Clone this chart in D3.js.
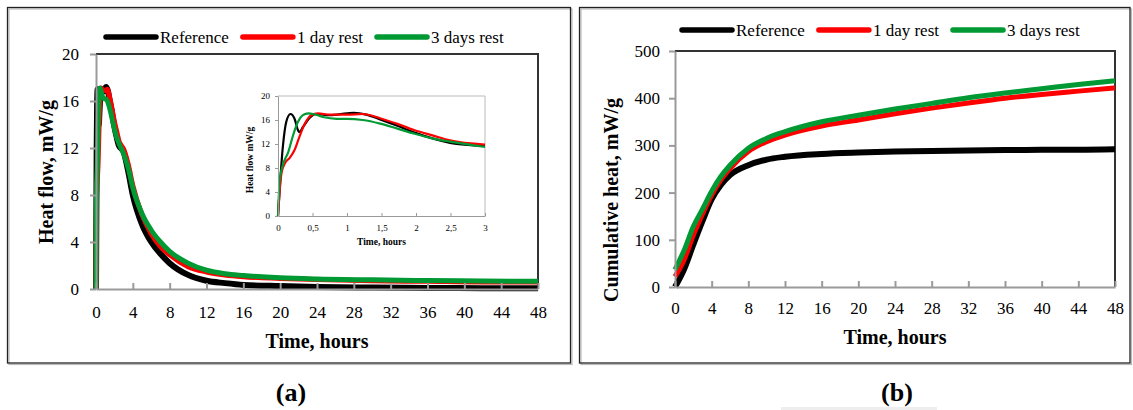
<!DOCTYPE html>
<html>
<head>
<meta charset="utf-8">
<script src="https://cdn.jsdelivr.net/npm/d3@7"></script>
<style>
  body { margin: 0; background: #fff; }
  svg { display: block; }
  text { font-family: "Liberation Serif", "Times New Roman", serif; fill: #000; }
</style>
</head>
<body>
<svg id="chart" width="1133" height="410"></svg>
<script>
// series
const seriesNames = ["Reference", "1 day rest", "3 days rest"];
const seriesColors = ["#000000", "#ff0000", "#009933"];

// heat flow [hours, mW/g]
const flowRef = [[0,0],[0.07,11.5],[0.12,15.7],[0.18,17.0],[0.24,16.2],[0.29,14.3],[0.31,14.0],[0.36,14.8],[0.46,16.4],[0.56,17.0],[0.75,16.8],[1.0,17.1],[1.1,17.2],[1.28,16.9],[1.48,16.1],[1.72,15.1],[1.98,13.9],[2.25,12.9],[2.49,12.2],[3,11.7],[3.5,10.0],[4,8.0],[5,5.5],[6,4.0],[7,3.0],[8,2.2],[10,1.2],[12,0.7],[14,0.5],[16,0.35],[20,0.25],[24,0.18],[30,0.12],[36,0.09],[42,0.07],[48,0.06]];
const flowDay1 = [[0,0],[0.05,7.1],[0.1,8.8],[0.17,9.7],[0.24,11.0],[0.31,13.2],[0.39,15.4],[0.48,16.8],[0.58,17.1],[0.75,16.9],[1.0,16.9],[1.23,17.0],[1.48,16.3],[1.72,15.4],[1.98,14.3],[2.25,13.4],[2.49,12.6],[3,11.9],[3.5,10.6],[4,8.8],[5,6.3],[6,4.7],[7,3.6],[8,2.9],[10,1.9],[12,1.45],[14,1.2],[16,1.05],[20,0.9],[24,0.8],[30,0.7],[36,0.65],[42,0.6],[48,0.6]];
const flowDay3 = [[0,0],[0.025,6.0],[0.07,8.5],[0.15,10.7],[0.22,13.5],[0.29,15.7],[0.36,16.8],[0.44,17.1],[0.51,17.0],[0.65,16.5],[0.85,16.2],[1.0,16.2],[1.23,16.0],[1.48,15.4],[1.72,14.6],[1.98,13.7],[2.25,12.9],[2.49,12.4],[3,11.5],[3.5,10.3],[4,8.6],[5,6.4],[6,5.0],[7,4.0],[8,3.2],[10,2.2],[12,1.6],[14,1.3],[16,1.15],[20,0.95],[24,0.85],[30,0.78],[36,0.72],[42,0.68],[48,0.65]];

// cumulative heat [hours, mW/g]
const cumHours = [0,1,2,3,4,5,6,8,10,12,16,20,24,28,32,36,40,44,48];
const cumRef   = [0,38,90,140,186,216,237,258,270,276,282,285,287,288,289,290,291,291,292];
const cumDay1  = [22,58,110,155,195,227,251,287,308,322,341,354,367,379,390,400,408,415,422];
const cumDay3  = [37,78,128,165,203,234,258,294,315,329,350,364,377,389,401,411,420,429,437];

// ticks
const hourTicks = [0,4,8,12,16,20,24,28,32,36,40,44,48];
const flowTicks = [0,4,8,12,16,20];
const cumTicks = [0,100,200,300,400,500];
const insetHourTicks = [0,0.5,1,1.5,2,2.5,3];
const insetHourLabels = ["0","0,5","1","1,5","2","2,5","3"];

const svg = d3.select("#chart");
const axisGray = "#9a9a9a";
const serif = '"Liberation Serif", "Times New Roman", serif';

// panel frames
function frame(x0, y0, x1, y1) {
  svg.append("rect").attr("x", x0 + 1.5).attr("y", y0 + 1.5)
    .attr("width", x1 - x0).attr("height", y1 - y0)
    .attr("fill", "none").attr("stroke", "#bbb").attr("stroke-width", 1.2);
  svg.append("rect").attr("x", x0).attr("y", y0)
    .attr("width", x1 - x0).attr("height", y1 - y0)
    .attr("fill", "none").attr("stroke", "#222").attr("stroke-width", 1.3);
}
frame(7.5, 7.5, 570.5, 363);
frame(579.5, 7.5, 1130, 363);

function drawPlot(opts) {
  const g = svg.append("g");
  const x = d3.scaleLinear().domain(opts.xDomain).range(opts.xRange);
  const y = d3.scaleLinear().domain(opts.yDomain).range(opts.yRange);

  // top and right border
  g.append("path")
    .attr("d", `M${opts.xRange[0]},${opts.yRange[1]}H${opts.xRange[1]}V${opts.yRange[0]}`)
    .attr("fill", "none").attr("stroke", opts.borderColor).attr("stroke-width", opts.borderWidth);

  const line = d3.line().x(d => x(d[0])).y(d => y(d[1])).curve(d3.curveMonotoneX);
  opts.series.forEach((s, i) => {
    g.append("path").datum(s)
      .attr("d", line)
      .attr("fill", "none")
      .attr("stroke", seriesColors[i])
      .attr("stroke-width", opts.lineWidth[i])
      .attr("stroke-linejoin", "round");
  });

  const xAxis = d3.axisBottom(x).tickValues(opts.xTicks)
    .tickSizeInner(-opts.tick).tickSizeOuter(0).tickPadding(opts.xPad)
    .tickFormat((d, i) => opts.xLabels ? opts.xLabels[i] : d);
  const gx = g.append("g").attr("transform", `translate(0,${opts.yRange[0]})`).call(xAxis);
  const yAxis = d3.axisLeft(y).tickValues(opts.yTicks)
    .tickSizeInner(opts.tick).tickSizeOuter(0).tickPadding(opts.yPad);
  const gy = g.append("g").attr("transform", `translate(${opts.xRange[0]},0)`).call(yAxis);

  [gx, gy].forEach(a => {
    a.attr("font-family", null).attr("font-size", null);
    a.select(".domain").attr("stroke", axisGray).attr("stroke-width", opts.axisWidth);
    a.selectAll(".tick line").attr("stroke", axisGray).attr("stroke-width", opts.axisWidth);
    a.selectAll(".tick text")
      .style("font-family", serif)
      .style("font-size", opts.tickFont + "px").attr("fill", "#000");
  });

  svg.append("text")
    .attr("x", (opts.xRange[0] + opts.xRange[1]) / 2).attr("y", opts.xTitleY)
    .attr("text-anchor", "middle").attr("font-weight", "bold")
    .attr("font-size", opts.titleFont).text(opts.xTitle);
  svg.append("text")
    .attr("transform", `translate(${opts.yTitleX},${opts.yTitleY}) rotate(-90)`)
    .attr("text-anchor", "middle").attr("font-weight", "bold")
    .attr("font-size", opts.titleFont).text(opts.yTitle);
}

function legend(startX, lineY) {
  let cx = startX;
  seriesNames.forEach((name, i) => {
    svg.append("line").attr("x1", cx).attr("x2", cx + 50)
      .attr("y1", lineY).attr("y2", lineY)
      .attr("stroke", seriesColors[i]).attr("stroke-width", 5.5).attr("stroke-linecap", "round");
    const t = svg.append("text").attr("x", cx + 54).attr("y", lineY + 6)
      .attr("font-size", 17).text(name);
    cx += 54 + t.node().getComputedTextLength() + 14;
  });
}

// (a) heat flow
drawPlot({
  xDomain: [0, 48], xRange: [96, 538],
  yDomain: [0, 20], yRange: [289, 54],
  series: [flowRef, flowDay1, flowDay3],
  lineWidth: [6, 5, 5],
  xTicks: hourTicks, yTicks: flowTicks,
  tick: 6, xPad: 17, yPad: 11, axisWidth: 2, tickFont: 17,
  borderColor: "#333", borderWidth: 2,
  xTitle: "Time, hours", xTitleY: 348,
  yTitle: "Heat flow, mW/g", yTitleX: 53, yTitleY: 172,
  titleFont: 20
});

// inset
svg.append("rect").attr("x", 278).attr("y", 96).attr("width", 207).attr("height", 120)
  .attr("fill", "#fff");
drawPlot({
  xDomain: [0, 3], xRange: [278, 485],
  yDomain: [0, 20], yRange: [216, 96],
  series: [flowRef, flowDay1, flowDay3].map(s => s.filter(d => d[0] <= 3)),
  lineWidth: [2.2, 2.2, 2.2],
  xTicks: insetHourTicks, xLabels: insetHourLabels, yTicks: flowTicks,
  tick: 3, xPad: 9, yPad: 5, axisWidth: 1, tickFont: 9,
  borderColor: "#bbb", borderWidth: 1,
  xTitle: "Time, hours", xTitleY: 245,
  yTitle: "Heat flow mW/g", yTitleX: 253, yTitleY: 160,
  titleFont: 9.5
});

// (b) cumulative heat
const cumSeries = [cumRef, cumDay1, cumDay3].map(v => cumHours.map((h, i) => [h, v[i]]));
drawPlot({
  xDomain: [0, 48], xRange: [675, 1115],
  yDomain: [0, 500], yRange: [287, 51],
  series: cumSeries,
  lineWidth: [6, 5, 5],
  xTicks: hourTicks, yTicks: cumTicks,
  tick: 6, xPad: 15, yPad: 9, axisWidth: 2, tickFont: 17,
  borderColor: "#333", borderWidth: 2,
  xTitle: "Time, hours", xTitleY: 344,
  yTitle: "Cumulative heat, mW/g", yTitleX: 618, yTitleY: 200,
  titleFont: 20
});

legend(106, 37);
legend(682, 30);

// panel labels
svg.append("text").attr("x", 291).attr("y", 401).attr("text-anchor", "middle")
  .attr("font-weight", "bold").attr("font-size", 26).text("(a)");
svg.append("text").attr("x", 897).attr("y", 401).attr("text-anchor", "middle")
  .attr("font-weight", "bold").attr("font-size", 26).text("(b)");
svg.append("rect").attr("x", 781).attr("y", 407).attr("width", 156).attr("height", 3)
  .attr("fill", "#eeeeee");
</script>
</body>
</html>
